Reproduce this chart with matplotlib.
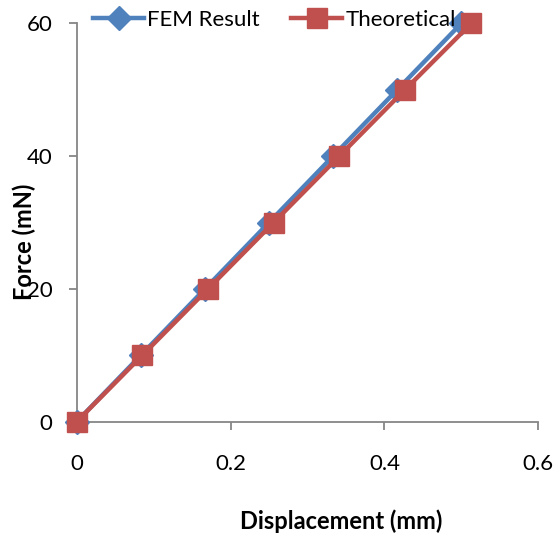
import matplotlib.pyplot as plt

# force levels (mN) and displacements (mm)
force = [0, 10, 20, 30, 40, 50, 60]
disp_fem = [0, 0.0833, 0.1667, 0.250, 0.3333, 0.4167, 0.500]
disp_theory = [0, 0.0853, 0.1707, 0.256, 0.3413, 0.4267, 0.513]

plt.rcParams['font.family'] = ['Lato', 'DejaVu Sans']

W, H = 558, 536
fig = plt.figure(figsize=(W / 100, H / 100), dpi=100)
x0, x1, y0, y1 = 76.7, 538.3, 421.7, 23.3
ax = fig.add_axes([x0 / W, 1 - y0 / H, (x1 - x0) / W, (y0 - y1) / H])

blue = '#4F81BD'
red = '#C0504D'
ax.plot(disp_fem, force, color=blue, lw=3.2, marker='D', ms=12,
        label='FEM Result', clip_on=False, zorder=3)
ax.plot(disp_theory, force, color=red, lw=3.2, marker='s', ms=14,
        label='Theoretical', clip_on=False, zorder=4)

ax.set_xlim(0, 0.6)
ax.set_ylim(0, 60)
ax.set_xticks([0, 0.2, 0.4, 0.6])
ax.set_xticklabels(['0', '0.2', '0.4', '0.6'])
ax.set_yticks([0, 20, 40, 60])

for s in ['top', 'right']:
    ax.spines[s].set_visible(False)
for s in ['left', 'bottom']:
    ax.spines[s].set_color('#868686')
    ax.spines[s].set_linewidth(1.3)
ax.tick_params(direction='out', length=5.5, width=1.3, color='#868686',
               labelsize=16, labelcolor='black')
ax.tick_params(axis='x', pad=18)
ax.tick_params(axis='y', pad=12)

ax.set_xlabel('Displacement (mm)', fontsize=17, fontweight='bold', va='center')
ax.xaxis.set_label_coords(0.5726, -0.249)
ax.set_ylabel('Force (mN)', fontsize=17, fontweight='bold', va='center')
ax.yaxis.set_label_coords(-0.114, 0.451)

fig.legend(loc='center left', bbox_to_anchor=(93 / W, 1 - 20 / H), ncol=2,
           frameon=False, fontsize=16, handlelength=2.3, columnspacing=1.4,
           handletextpad=0.15, borderpad=0, borderaxespad=0)

fig.savefig('out.png', dpi=100)
